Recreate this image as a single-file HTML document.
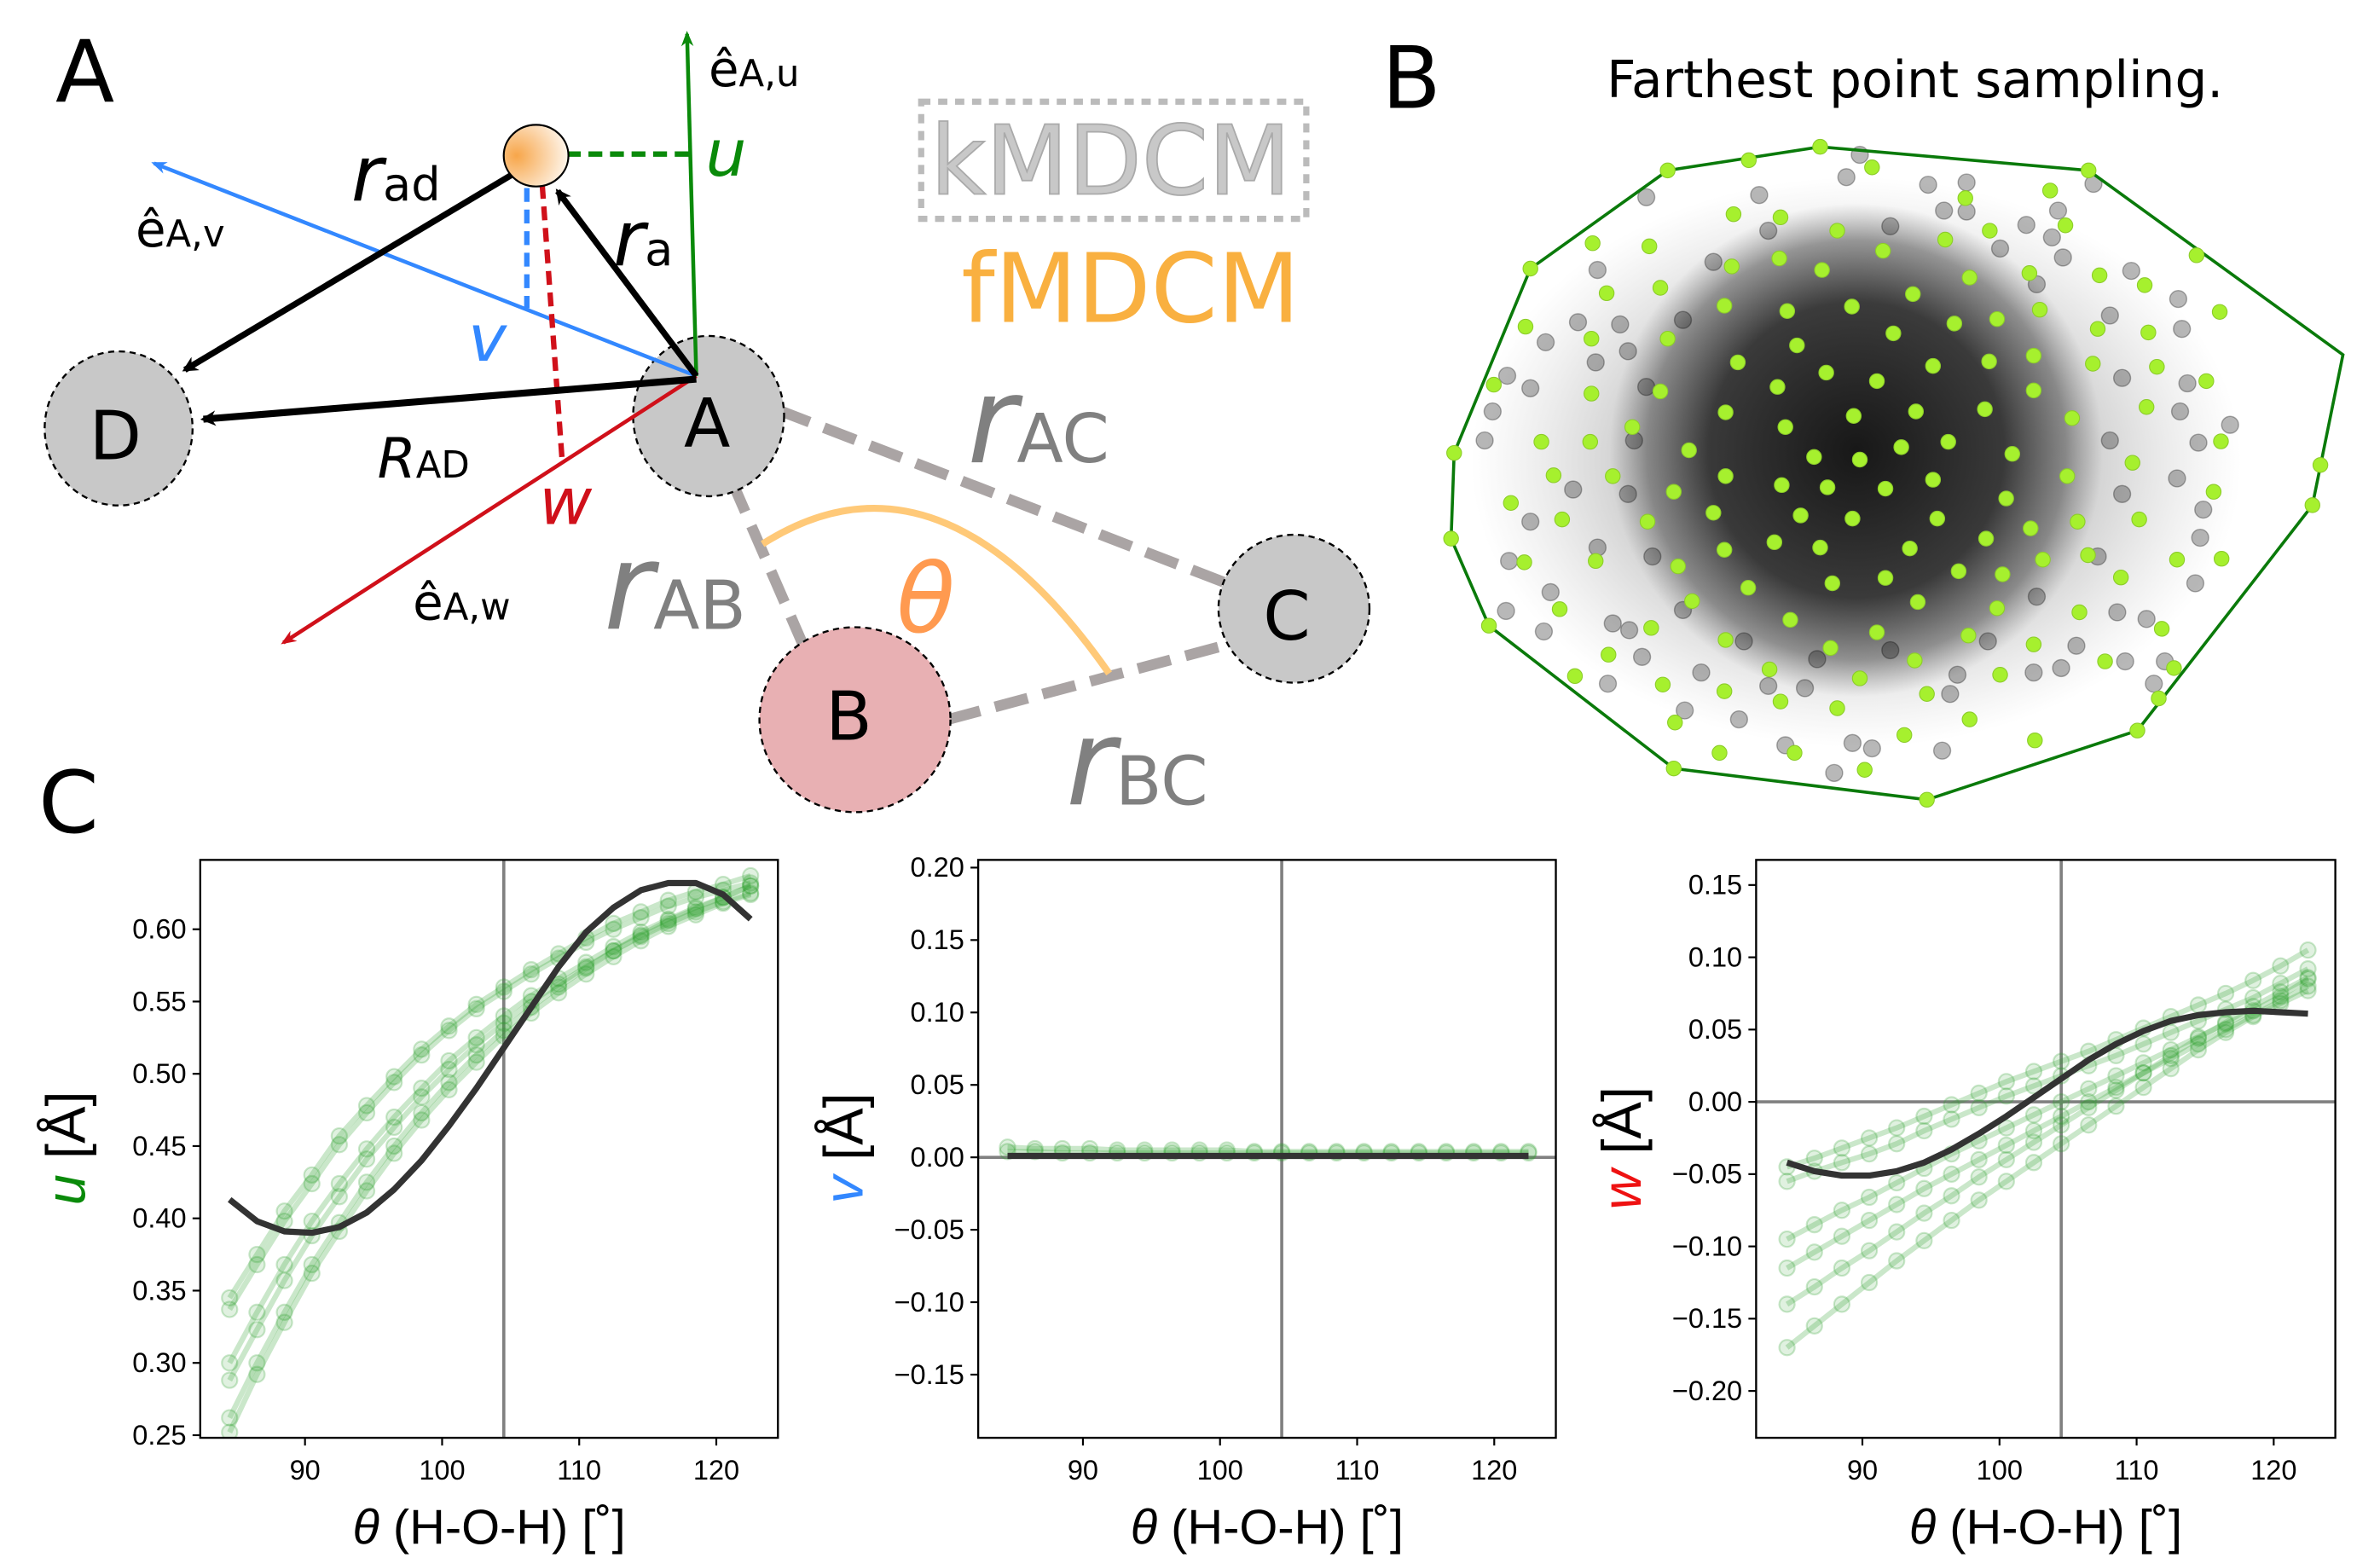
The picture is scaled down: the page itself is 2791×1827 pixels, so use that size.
<!DOCTYPE html>
<html><head><meta charset="utf-8"><style>
html,body{margin:0;padding:0;background:#fff}
svg{display:block}
text{font-family:"DejaVu Sans","Liberation Sans",sans-serif}
.ax{font-family:"Liberation Sans",sans-serif}
</style></head><body>
<svg id="fig" xmlns="http://www.w3.org/2000/svg" width="2791" height="1827" viewBox="0 0 1545 1011" preserveAspectRatio="none">
<defs>
<radialGradient id="sph" cx="0.2" cy="0.5" r="0.9"><stop offset="0" stop-color="#f7a64a"/><stop offset="1" stop-color="#fff"/></radialGradient>
<radialGradient id="core" cx="0.5" cy="0.5" r="0.5"><stop offset="0" stop-color="#111" stop-opacity="0.95"/><stop offset="0.6" stop-color="#222" stop-opacity="0.85"/><stop offset="0.85" stop-color="#444" stop-opacity="0.5"/><stop offset="1" stop-color="#666" stop-opacity="0"/></radialGradient>
<radialGradient id="halo" cx="0.5" cy="0.5" r="0.5"><stop offset="0" stop-color="#666" stop-opacity="0.7"/><stop offset="0.6" stop-color="#888" stop-opacity="0.4"/><stop offset="1" stop-color="#aaa" stop-opacity="0"/></radialGradient>
<marker id="ah" markerWidth="10" markerHeight="10" refX="8" refY="5" orient="auto" markerUnits="userSpaceOnUse"><path d="M0,0 L10,5 L0,10 L3,5 z" fill="#000"/></marker>
<marker id="ag" markerWidth="10" markerHeight="10" refX="8" refY="5" orient="auto" markerUnits="userSpaceOnUse"><path d="M0,1 L10,5 L0,9 L3,5 z" fill="#0a8a0a"/></marker>
<marker id="ab" markerWidth="10" markerHeight="10" refX="8" refY="5" orient="auto" markerUnits="userSpaceOnUse"><path d="M0,1 L10,5 L0,9 L3,5 z" fill="#3388ff"/></marker>
<marker id="ar" markerWidth="10" markerHeight="10" refX="8" refY="5" orient="auto" markerUnits="userSpaceOnUse"><path d="M0,1 L10,5 L0,9 L3,5 z" fill="#d0101a"/></marker>
<clipPath id="c1"><rect x="130" y="558" width="375" height="375"/></clipPath>
<clipPath id="c2"><rect x="635" y="558" width="375" height="375"/></clipPath>
<clipPath id="c3"><rect x="1140" y="558" width="376" height="375"/></clipPath>
</defs>

<!-- Panel A -->
<g>
<text x="36" y="66" font-size="56">A</text>
<g stroke="#aaa4a4" stroke-width="7" stroke-dasharray="22,10" fill="none">
<line x1="505" y1="266" x2="795" y2="378"/><line x1="475" y1="312" x2="522" y2="420"/><line x1="615" y1="467" x2="798" y2="418"/></g>
<path d="M495,353 Q610,280 720,437" stroke="#ffc978" stroke-width="4.5" fill="none"/>
<ellipse cx="77" cy="278" rx="48" ry="50" fill="#c8c8c8" stroke="#000" stroke-width="1.3" stroke-dasharray="4,3"/>
<ellipse cx="460" cy="270" rx="49" ry="52" fill="#c8c8c8" stroke="#000" stroke-width="1.3" stroke-dasharray="4,3"/>
<ellipse cx="840" cy="395" rx="49" ry="48" fill="#c8c8c8" stroke="#000" stroke-width="1.3" stroke-dasharray="4,3"/>
<ellipse cx="555" cy="467" rx="62" ry="60" fill="#e8b0b3" stroke="#000" stroke-width="1.3" stroke-dasharray="4,3"/>
<text x="58" y="298" font-size="44">D</text>
<text x="444" y="290" font-size="44">A</text>
<text x="820" y="415" font-size="44">C</text>
<text x="536" y="480" font-size="44">B</text>
<line x1="452" y1="244" x2="446" y2="22" stroke="#0a8a0a" stroke-width="2.5" marker-end="url(#ag)"/>
<line x1="452" y1="244" x2="100" y2="106" stroke="#3388ff" stroke-width="2.5" marker-end="url(#ab)"/>
<line x1="452" y1="244" x2="184" y2="417" stroke="#d0101a" stroke-width="2.5" marker-end="url(#ar)"/>
<line x1="368" y1="100" x2="448" y2="100" stroke="#0a8a0a" stroke-width="3.5" stroke-dasharray="9,5"/>
<line x1="342" y1="122" x2="342" y2="200" stroke="#3388ff" stroke-width="3.5" stroke-dasharray="9,5"/>
<line x1="352" y1="120" x2="365" y2="300" stroke="#d0101a" stroke-width="3.5" stroke-dasharray="9,5"/>
<line x1="452" y1="244" x2="362" y2="124" stroke="#000" stroke-width="4" marker-end="url(#ah)"/>
<line x1="338" y1="110" x2="120" y2="240" stroke="#000" stroke-width="4" marker-end="url(#ah)"/>
<line x1="452" y1="246" x2="132" y2="272" stroke="#000" stroke-width="4.5" marker-end="url(#ah)"/>
<ellipse cx="348" cy="101" rx="21" ry="20" fill="url(#sph)" stroke="#000" stroke-width="1.2"/>
<text x="460" y="56" font-size="32">ê<tspan font-size="24">A,u</tspan></text>
<text x="88" y="160" font-size="32">ê<tspan font-size="24">A,v</tspan></text>
<text x="268" y="402" font-size="32">ê<tspan font-size="24">A,w</tspan></text>
<text x="458" y="114" font-size="42" font-style="italic" fill="#0a8a0a">u</text>
<text x="304" y="234" font-size="42" font-style="italic" fill="#3388ff">v</text>
<text x="350" y="340" font-size="42" font-style="italic" fill="#d0101a">w</text>
<text x="228" y="130" font-size="50" font-style="italic">r<tspan font-size="30" font-style="normal">ad</tspan></text>
<text x="398" y="172" font-size="50" font-style="italic">r<tspan font-size="30" font-style="normal">a</tspan></text>
<text x="245" y="310" font-size="36" font-style="italic">R<tspan font-size="24" font-style="normal">AD</tspan></text>
<text x="628" y="300" font-size="78" font-style="italic" fill="#808080">r<tspan font-size="44" font-style="normal">AC</tspan></text>
<text x="392" y="408" font-size="78" font-style="italic" fill="#808080">r<tspan font-size="44" font-style="normal">AB</tspan></text>
<text x="692" y="522" font-size="78" font-style="italic" fill="#808080">r<tspan font-size="44" font-style="normal">BC</tspan></text>
<text x="582" y="410" font-size="62" font-style="italic" fill="#ff9a50">θ</text>
<rect x="598" y="66" width="250" height="76" fill="none" stroke="#bbb" stroke-width="4" stroke-dasharray="6,5"/>
<text x="604" y="126" font-size="62" fill="#c8c8c8" stroke="#aaa" stroke-width="1">kMDCM</text>
<text x="624" y="209" font-size="62" fill="#f9b040">fMDCM</text>
<text x="25" y="540" font-size="56">C</text>
</g>

<!-- Panel B -->
<g id="pb">
<text x="897" y="70" font-size="56">B</text>
<text x="1043" y="63" font-size="33">Farthest point sampling.</text>
<ellipse cx="1205" cy="300" rx="250" ry="185" fill="url(#halo)"/>
<ellipse cx="1205" cy="292" rx="160" ry="160" fill="url(#core)"/>
</g>

<g id="charts"></g>
</svg>
<script>
// ---------- Panel B data (normalized sample-space coords) ----------
const hullPts=[[605,42],[1045,95],[1462,508],[1412,845],[1125,1350],[780,1505],[365,1435],[62,1115],[0,920],[5,728],[130,315],[355,95]];
const grayPts=[[320,155],[505,150],[648,110],[670,60],[782,127],[845,122],[808,185],[845,187],[943,217],[995,185],[985,245],[1003,290],[1053,125],[1115,320],[1192,383],[1198,450],[1207,572],[1195,635],[1277,665],[1225,705],[1190,785],[1233,855],[1228,918],[1220,1020],[1105,1195],[1152,1245],[1092,1085],[955,1220],[818,1268],[805,1395],[628,1445],[658,1378],[548,1383],[472,1325],[383,1305],[257,1245],[152,1128],[90,1082],[95,970],[130,882],[55,700],[68,635],[130,583],[92,555],[155,480],[208,435],[277,440],[240,318],[237,525],[290,500],[200,810],[240,940],[163,1040],[265,1110],[292,1125],[313,1185],[410,1220],[520,1250],[580,1255],[690,1390],[830,1225],[1000,1210],[1025,1160],[1140,1100],[1170,1195],[430,300],[520,230],[720,220],[900,270],[960,350],[1080,420],[1100,560],[1080,700],[1100,820],[1060,960],[960,1050],[880,1150],[720,1170],[600,1190],[480,1150],[380,1080],[330,960],[290,820],[300,700],[320,580],[380,430]];
const greenPts=[[605,42],[488,72],[355,95],[690,88],[1045,95],[982,140],[843,157],[463,193],[540,200],[633,230],[883,230],[1007,218],[232,258],[325,265],[810,250],[708,275],[538,292],[130,315],[460,310],[608,318],[948,325],[850,335],[1063,330],[1137,352],[1222,285],[343,358],[255,370],[757,372],[448,398],[551,410],[657,400],[965,407],[1260,412],[122,445],[825,438],[895,428],[725,460],[1060,450],[1143,458],[230,472],[355,472],[567,487],[955,510],[470,525],[790,533],[882,523],[1052,528],[1157,535],[615,548],[698,567],[1238,567],[70,575],[535,580],[230,595],[343,590],[955,588],[1140,625],[450,637],[660,645],[762,635],[875,630],[1018,650],[548,670],[297,670],[148,703],[228,703],[815,703],[738,715],[920,730],[1262,702],[390,722],[595,737],[670,743],[1117,750],[5,728],[1425,755],[168,778],[265,780],[450,780],[1010,780],[790,788],[542,800],[617,805],[712,808],[1250,815],[98,840],[365,815],[910,830],[1412,845],[430,862],[573,868],[658,875],[797,875],[182,877],[322,882],[1027,882],[1128,877],[950,897],[877,920],[530,928],[605,940],[752,942],[448,945],[0,920],[120,973],[237,970],[970,967],[1044,957],[1190,967],[1263,965],[372,982],[832,993],[904,1000],[712,1008],[625,1020],[487,1030],[1098,1007],[395,1060],[765,1062],[178,1078],[895,1076],[1030,1085],[556,1102],[62,1115],[328,1120],[1165,1122],[698,1130],[450,1147],[848,1137],[955,1157],[622,1165],[258,1180],[1072,1195],[760,1193],[522,1213],[203,1228],[900,1225],[1185,1210],[670,1233],[347,1247],[448,1262],[780,1268],[540,1285],[1160,1278],[633,1300],[367,1332],[850,1325],[743,1360],[957,1372],[1125,1350],[440,1400],[563,1400],[678,1438],[365,1435],[780,1505]];

// ---------- Panel C data ----------
const thetaVals=[84.5,86.5,88.5,90.5,92.5,94.5,96.5,98.5,100.5,102.5,104.5,106.5,108.5,110.5,112.5,114.5,116.5,118.5,120.5,122.5];
const xTicks=[90,100,110,120];
const uTicks=[0.25,0.30,0.35,0.40,0.45,0.50,0.55,0.60];
const vTicks=[-0.15,-0.10,-0.05,0.00,0.05,0.10,0.15,0.20];
const wTicks=[-0.20,-0.15,-0.10,-0.05,0.00,0.05,0.10,0.15];
const uSeries1=[0.345,0.375,0.405,0.430,0.457,0.478,0.498,0.517,0.533,0.548,0.560,0.572,0.583,0.594,0.604,0.612,0.620,0.626,0.631,0.637];
const uSeries2=[0.337,0.368,0.398,0.424,0.451,0.473,0.494,0.513,0.530,0.545,0.557,0.569,0.580,0.591,0.600,0.608,0.616,0.622,0.627,0.632];
const uSeries3=[0.300,0.335,0.368,0.398,0.424,0.448,0.470,0.490,0.509,0.525,0.540,0.554,0.566,0.577,0.588,0.598,0.607,0.615,0.622,0.630];
const uSeries4=[0.288,0.323,0.357,0.388,0.415,0.441,0.463,0.484,0.503,0.520,0.535,0.550,0.562,0.574,0.585,0.595,0.604,0.612,0.619,0.625];
const uSeries5=[0.262,0.300,0.335,0.368,0.397,0.425,0.450,0.473,0.494,0.513,0.530,0.546,0.560,0.573,0.585,0.596,0.606,0.614,0.622,0.630];
const uSeries6=[0.252,0.292,0.328,0.362,0.391,0.419,0.445,0.468,0.489,0.508,0.526,0.542,0.556,0.569,0.581,0.592,0.602,0.610,0.618,0.624];
const uFit=[0.413,0.398,0.391,0.390,0.394,0.404,0.420,0.440,0.464,0.490,0.518,0.546,0.574,0.598,0.615,0.627,0.632,0.632,0.624,0.607];
const vSeries1=[0.007,0.006,0.006,0.006,0.005,0.005,0.005,0.005,0.005,0.004,0.004,0.004,0.004,0.004,0.004,0.004,0.004,0.004,0.004,0.004];
const vSeries2=[0.004,0.004,0.003,0.003,0.003,0.003,0.003,0.003,0.003,0.003,0.003,0.003,0.003,0.003,0.003,0.003,0.003,0.003,0.003,0.003];
const vFit=[0.001,0.001,0.001,0.001,0.001,0.001,0.001,0.001,0.001,0.001,0.001,0.001,0.001,0.001,0.001,0.001,0.001,0.001,0.001,0.001];
const wSeries1=[-0.045,-0.039,-0.032,-0.025,-0.018,-0.010,-0.002,0.006,0.014,0.021,0.028,0.035,0.043,0.051,0.059,0.067,0.075,0.084,0.094,0.105];
const wSeries2=[-0.055,-0.048,-0.042,-0.036,-0.029,-0.020,-0.012,-0.004,0.004,0.011,0.018,0.025,0.032,0.040,0.048,0.056,0.064,0.072,0.082,0.092];
const wSeries3=[-0.095,-0.085,-0.075,-0.066,-0.056,-0.046,-0.036,-0.027,-0.018,-0.009,0.000,0.009,0.018,0.027,0.036,0.045,0.054,0.063,0.073,0.085];
const wSeries4=[-0.115,-0.104,-0.093,-0.082,-0.071,-0.060,-0.050,-0.040,-0.030,-0.020,-0.010,0.000,0.010,0.020,0.030,0.040,0.050,0.060,0.070,0.080];
const wSeries5=[-0.140,-0.128,-0.115,-0.103,-0.090,-0.077,-0.065,-0.052,-0.040,-0.028,-0.016,-0.004,0.008,0.020,0.032,0.044,0.055,0.066,0.076,0.086];
const wSeries6=[-0.170,-0.155,-0.140,-0.125,-0.110,-0.096,-0.082,-0.068,-0.055,-0.042,-0.029,-0.016,-0.003,0.010,0.023,0.036,0.048,0.059,0.068,0.077];
const wFit=[-0.042,-0.048,-0.051,-0.051,-0.048,-0.042,-0.033,-0.022,-0.010,0.003,0.016,0.029,0.040,0.049,0.056,0.060,0.062,0.063,0.062,0.061];
const refTheta=104.5;

const NS="http://www.w3.org/2000/svg";
function mk(tag,attrs,parent){const e=document.createElementNS(NS,tag);for(const k in attrs)e.setAttribute(k,attrs[k]);parent.appendChild(e);return e;}

// Panel B drawing
const pb=document.getElementById('pb');
const bx=z=>942+z*0.396, by=z=>83.1+z*0.2896;
for(const p of grayPts){const c=mk('circle',{cx:bx(p[0]),cy:by(p[1]),r:5.5,fill:'#000','fill-opacity':0.28,stroke:'#000','stroke-opacity':0.3,'stroke-width':0.8},pb);

}
const hull=mk('polygon',{points:hullPts.map(p=>bx(p[0])+','+by(p[1])).join(' '),fill:'none',stroke:'#0a7a0a','stroke-width':2},pb);


for(const p of greenPts){const c=mk('circle',{cx:bx(p[0]),cy:by(p[1]),r:4.8,fill:'#a6f02e',stroke:'#8ccc2a','stroke-width':0.6},pb);

}

// Panel C drawing
const charts=document.getElementById('charts');
function panel(cfg){
  const g=mk('g',{},charts);
  
  
  const X=t=>cfg.x90+(t-90)*8.9;
  const Y=v=>cfg.y0-(v-cfg.v0)/0.05*cfg.step;
  const L=cfg.left,T=558,R=cfg.left+cfg.w,B=933;
  const pg=mk('g',{'clip-path':'url(#'+cfg.clip+')'},g);
  const vl=mk('line',{x1:X(refTheta),x2:X(refTheta),y1:T,y2:B,stroke:'#808080','stroke-width':2},pg);
  
  
  if(cfg.zero){const hl=mk('line',{x1:L,x2:R,y1:Y(0),y2:Y(0),stroke:'#808080','stroke-width':2},pg);
    
    }
  cfg.series.forEach((s,i)=>{
    const pl=mk('polyline',{points:s.map((v,j)=>X(thetaVals[j])+','+Y(v)).join(' '),fill:'none',stroke:'#2ca02c','stroke-opacity':0.25,'stroke-width':3.5},pg);
    
    
    s.forEach((v,j)=>{const c=mk('circle',{cx:X(thetaVals[j]),cy:Y(v),r:5,fill:'#2ca02c','fill-opacity':0.15,stroke:'#2ca02c','stroke-opacity':0.25,'stroke-width':1.2},pg);
      
      });
  });
  const fit=mk('polyline',{points:cfg.fit.map((v,j)=>X(thetaVals[j])+','+Y(v)).join(' '),fill:'none',stroke:'#333','stroke-width':4,'stroke-linejoin':'round'},pg);
  
  
  const fr=mk('rect',{x:L,y:T,width:cfg.w,height:B-T,fill:'none',stroke:'#000','stroke-width':1.3},g);
  
  
  for(const t of xTicks){mk('line',{x1:X(t),x2:X(t),y1:B,y2:B+5,stroke:'#000','stroke-width':1.2},g);
    const tx=mk('text',{x:X(t),y:B+27,'font-size':18,'text-anchor':'middle',class:'ax'},g);tx.textContent=t;
    
    }
  for(const v of cfg.ticks){mk('line',{x1:L-5,x2:L,y1:Y(v),y2:Y(v),stroke:'#000','stroke-width':1.2},g);
    const tx=mk('text',{x:L-9,y:Y(v)+6,'font-size':18,'text-anchor':'end',class:'ax'},g);tx.textContent=v.toFixed(2).replace('-','−');
    
    }
  const xl=mk('text',{x:(L+R)/2,y:1002,'font-size':32,'text-anchor':'middle',class:'ax'},g);
  xl.innerHTML='<tspan font-style="italic">θ</tspan> (H-O-H) [˚]';
  
  
  const yl=mk('text',{x:0,y:0,'font-size':36,'text-anchor':'middle',class:'ax',transform:'translate('+(L-75)+',745) rotate(-90)'},g);
  yl.innerHTML='<tspan font-style="italic" fill="'+cfg.col+'">'+cfg.lab+'</tspan> [Å]';
  
  
}
panel({name:'u-chart',left:130,w:375,x90:198,y0:603,v0:0.60,step:46.9,clip:'c1',ticks:uTicks,zero:false,series:[uSeries1,uSeries2,uSeries3,uSeries4,uSeries5,uSeries6],fit:uFit,col:'#0a8a0a',lab:'u'});
panel({name:'v-chart',left:635,w:375,x90:703,y0:751,v0:0,step:47,clip:'c2',ticks:vTicks,zero:true,series:[vSeries1,vSeries2],fit:vFit,col:'#3388ff',lab:'v'});
panel({name:'w-chart',left:1140,w:376,x90:1209,y0:715,v0:0,step:46.9,clip:'c3',ticks:wTicks,zero:true,series:[wSeries1,wSeries2,wSeries3,wSeries4,wSeries5,wSeries6],fit:wFit,col:'#ee1111',lab:'w'});
</script>
</body></html>
